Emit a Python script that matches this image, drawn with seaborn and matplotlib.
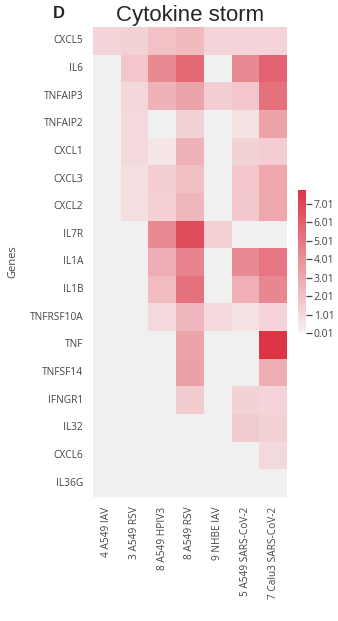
import numpy as np
import pandas as pd
import matplotlib
matplotlib.use("Agg")
import matplotlib.pyplot as plt
import seaborn as sns

genes = ["CXCL5", "IL6", "TNFAIP3", "TNFAIP2", "CXCL1", "CXCL3", "CXCL2", "IL7R",
         "IL1A", "IL1B", "TNFRSF10A", "TNF", "TNFSF14", "IFNGR1", "IL32", "CXCL6", "IL36G"]
samples = ["4 A549 IAV", "3 A549 RSV", "8 A549 HPIV3", "8 A549 RSV", "9 NHBE IAV",
           "5 A549 SARS-CoV-2", "7 Calu3 SARS-CoV-2"]

nan = np.nan
cxcl5 = [1.2, 1.3, 2.0, 2.3, 1.2, 1.2, 1.2]
il6 = [nan, 1.8, 4.3, 5.6, nan, 4.3, 5.8]
tnfaip3 = [nan, 1.1, 2.6, 3.2, 1.5, 1.8, 5.3]
tnfaip2 = [nan, 1.0, nan, 1.3, nan, 0.7, 3.2]
cxcl1 = [nan, 1.0, 0.5, 2.6, nan, 1.3, 1.5]
cxcl3 = [nan, 0.8, 1.5, 2.1, nan, 1.8, 3.1]
cxcl2 = [nan, 0.8, 1.4, 2.4, nan, 1.7, 3.1]
il7r = [nan, nan, 4.3, 6.8, 1.4, nan, nan]
il1a = [nan, nan, 2.8, 4.5, nan, 4.3, 5.1]
il1b = [nan, nan, 2.2, 5.3, nan, 2.7, 4.4]
tnfrsf10a = [nan, nan, 1.0, 2.4, 1.0, 0.7, 1.2]
tnf = [nan, nan, nan, 3.2, nan, nan, 7.7]
tnfsf14 = [nan, nan, nan, 3.3, nan, nan, 2.8]
ifngr1 = [nan, nan, nan, 1.6, nan, 1.3, 1.2]
il32 = [nan, nan, nan, nan, nan, 1.6, 1.3]
cxcl6 = [nan, nan, nan, nan, nan, nan, 1.0]
il36g = [nan, nan, nan, nan, nan, nan, nan]

rows = [cxcl5, il6, tnfaip3, tnfaip2, cxcl1, cxcl3, cxcl2, il7r, il1a, il1b,
        tnfrsf10a, tnf, tnfsf14, ifngr1, il32, cxcl6, il36g]
df = pd.DataFrame(rows, index=genes, columns=samples)
df.index.name = "Genes"

cbar_ticks = [0.01, 1.01, 2.01, 3.01, 4.01, 5.01, 6.01, 7.01]

sns.set_style("white")
cmap = sns.blend_palette(["#f8f1f2", "#dc3545"], as_cmap=True)

fig = plt.figure(figsize=(3.38, 6.21), dpi=100)
ax = fig.add_axes([0.275, 0.1997, 0.574, 0.7568])
cax = fig.add_axes([0.8817, 0.4638, 0.0237, 0.2305])
ax.set_facecolor("#f0f0f0")

sns.heatmap(df, ax=ax, cbar_ax=cax, cmap=cmap, vmin=0.01, vmax=7.77,
            cbar_kws={"ticks": cbar_ticks, "format": "%.2f"})

label_color = "#444444"
ax.tick_params(axis="both", length=0, labelsize=7.3, labelcolor=label_color, pad=7)
ax.set_yticklabels(genes, rotation=0, fontfamily="Open Sans")
ax.set_xticklabels(samples, rotation=90, fontfamily="Open Sans")
ax.set_xlabel("")
ax.set_ylabel("Genes", fontsize=8, color=label_color, fontfamily="Open Sans", labelpad=8)
ax.set_title("Cytokine storm", fontsize=16, fontfamily="Liberation Sans", pad=4)

cax.tick_params(length=4, width=0.9, color=label_color, labelsize=7.5, labelcolor=label_color, pad=1.5)
for t in cax.get_yticklabels():
    t.set_fontfamily("Open Sans")
cbar = ax.collections[0].colorbar
if cbar is not None:
    cbar.outline.set_visible(False)

fig.text(0.155, 0.99, "D", fontsize=12, fontweight="bold", fontfamily="Liberation Sans",
         va="top", ha="left")

fig.savefig("out.png", dpi=100)
